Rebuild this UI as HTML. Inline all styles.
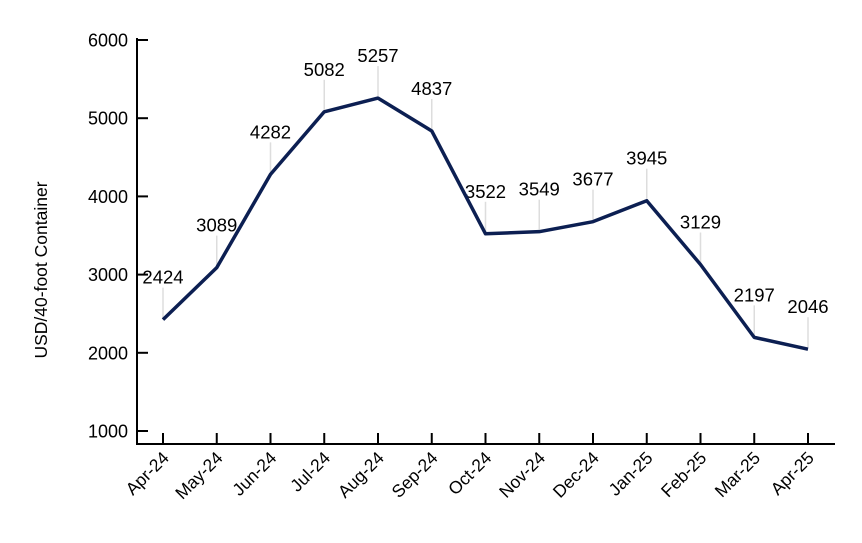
<!DOCTYPE html>
<html><head><meta charset="utf-8"><style>
body{margin:0;background:#fff;}
svg text{font-family:"Liberation Sans",Arial,sans-serif;fill:#000;}
</style></head><body>
<svg width="862" height="538">
<g id="axes"></g><g id="marks"></g>
</svg>
<script>
const categories=["Apr-24","May-24","Jun-24","Jul-24","Aug-24","Sep-24","Oct-24","Nov-24","Dec-24","Jan-25","Feb-25","Mar-25","Apr-25"];
const values=[2424,3089,4282,5082,5257,4837,3522,3549,3677,3945,3129,2197,2046];
const yTicks=[1000,2000,3000,4000,5000,6000];
const NS="http://www.w3.org/2000/svg";
const x0=163,x1=808,axX=137,axY=444;
function xs(i){return x0+(x1-x0)*i/(categories.length-1);}
function ys(v){return 431-(v-1000)*(431-40)/5000;}
function mk(t,a,p){const e=document.createElementNS(NS,t);for(const k in a)e.setAttribute(k,a[k]);p.appendChild(e);return e;}
const ax=document.getElementById('axes'),mg=document.getElementById('marks');
const ya=mk('line',{x1:axX,y1:38,x2:axX,y2:axY+1,stroke:'#000','stroke-width':2},ax);


const xa=mk('line',{x1:axX-1,y1:axY,x2:835,y2:axY,stroke:'#000','stroke-width':2},ax);


yTicks.forEach(v=>{
 const y=ys(v);
 mk('line',{x1:axX,y1:y,x2:axX+11,y2:y,stroke:'#000','stroke-width':2},ax);
 const t=mk('text',{x:axX-9,y:y+6.5,'text-anchor':'end','font-size':18},ax);t.textContent=v;
 
 
});
categories.forEach((c,i)=>{
 const x=xs(i);
 mk('line',{x1:x,y1:axY,x2:x,y2:axY-11,stroke:'#000','stroke-width':2},ax);
 const t=mk('text',{x:x+7,y:axY+15,'text-anchor':'end','font-size':17.5,transform:`rotate(-45 ${x+7} ${axY+15})`},ax);t.textContent=c;
 
 
});
const yt=mk('text',{x:47,y:270,'text-anchor':'middle','font-size':17.5,transform:'rotate(-90 47 270)'},ax);yt.textContent='USD/40-foot Container';


values.forEach((v,i)=>{
 const x=xs(i),y=ys(v);
 const l=mk('line',{x1:x,y1:y-2,x2:x,y2:y-32,stroke:'#ddd','stroke-width':1.5},mg);
 
 
 const t=mk('text',{x:x,y:y-36,'text-anchor':'middle','font-size':18.5},mg);t.textContent=v;
 
 
});
const p=mk('polyline',{points:values.map((v,i)=>xs(i)+','+ys(v)).join(' '),fill:'none',stroke:'#0c1f52','stroke-width':3.5,'stroke-linejoin':'round'},mg);


</script>
</body></html>
